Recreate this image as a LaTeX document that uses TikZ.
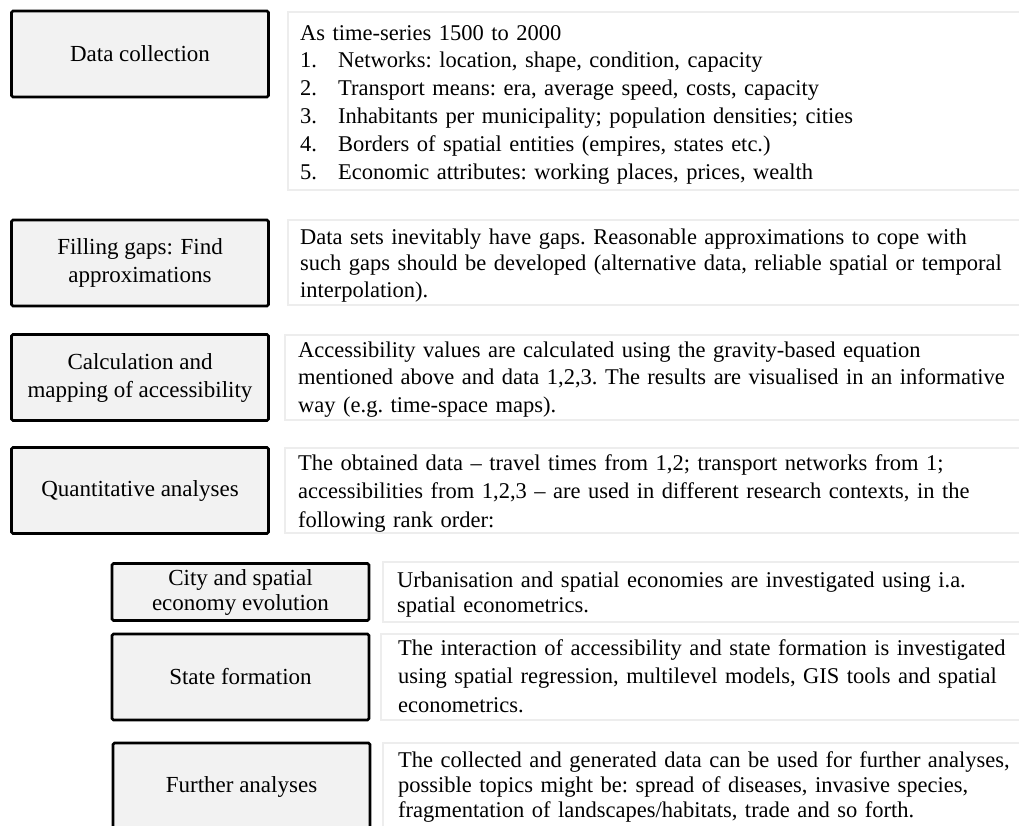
\documentclass[tikz,border=0pt]{standalone}
\usepackage{fontspec}
\setmainfont{Liberation Serif}
\definecolor{boxfill}{HTML}{F2F2F2}
\definecolor{panelline}{HTML}{EDEDED}
\newcommand\myfs[1]{\fontsize{23}{#1}\selectfont}
\newcommand\mypfs[1]{\fontsize{22.5}{#1}\selectfont\frenchspacing}
\begin{document}
\begin{tikzpicture}[x=1pt,y=-1pt,
  stage/.style={draw=black, line width=2.6pt, fill=boxfill, rounded corners=1.5pt,
    align=center, inner sep=0pt, minimum width=257pt, minimum height=86pt},
  panel/.style={draw=panelline, line width=2.5pt},
  ptext/.style={anchor=base west, inner sep=0pt, align=left, text width=730pt}]
\useasboundingbox (0,0) rectangle (1019,825);
% panels
\draw[panel] (288,12) rectangle (1024,190);
\draw[panel] (288,220) rectangle (1024,305);
\draw[panel] (285,335) rectangle (1024,420);
\draw[panel] (285,448) rectangle (1024,533);
\draw[panel] (383,562) rectangle (1024,622);
\draw[panel] (381,634) rectangle (1024,720);
\draw[panel] (383,743) rectangle (1024,840);
% stage boxes
\node[stage, font=\myfs{28}] (dc) at (140,54) {Data collection};
\node[stage, font=\myfs{28}] (fg) at (140,263) {Filling gaps: Find\\approximations};
\node[stage, font=\myfs{28}] (ca) at (140,377.5) {Calculation and\\mapping of accessibility};
\node[stage, font=\myfs{28}] (qa) at (140,490.5) {Quantitative analyses};
\node[stage, font=\myfs{25}, minimum height=57pt] (ci) at (240.5,592) {City and spatial\\economy evolution};
\node[stage, font=\myfs{28}] (sf) at (240.5,677) {State formation};
\node[stage, font=\myfs{28}, minimum height=88pt] (fa) at (241.5,787) {Further analyses};
% panel texts
\node[ptext, font=\mypfs{27.8}] (t1) at (300,40) {As time-series 1500 to 2000\\
\makebox[38pt][l]{1.}Networks: location, shape, condition, capacity\\
\makebox[38pt][l]{2.}Transport means: era, average speed, costs, capacity\\
\makebox[38pt][l]{3.}Inhabitants per municipality; population densities; cities\\
\makebox[38pt][l]{4.}Borders of spatial entities (empires, states etc.)\\
\makebox[38pt][l]{5.}Economic attributes: working places, prices, wealth};
\node[ptext, font=\mypfs{26.5}] (t2) at (300,244) {Data sets inevitably have gaps. Reasonable approximations to cope with\\
such gaps should be developed (alternative data, reliable spatial or temporal\\
interpolation).};
\node[ptext, font=\mypfs{27.5}] (t3) at (298,357) {Accessibility values are calculated using the gravity-based equation\\
mentioned above and data 1,2,3. The results are visualised in an informative\\
way (e.g. time-space maps).};
\node[ptext, font=\mypfs{28.5}] (t4) at (298,470) {The obtained data -- travel times from 1,2; transport networks from 1;\\
accessibilities from 1,2,3 -- are used in different research contexts, in the\\
following rank order:};
\node[ptext, font=\mypfs{25}] (t5) at (397,587) {Urbanisation and spatial economies are investigated using i.a.\\
spatial econometrics.};
\node[ptext, font=\mypfs{28.5}] (t6) at (398,655) {The interaction of accessibility and state formation is investigated\\
using spatial regression, multilevel models, GIS tools and spatial\\
econometrics.};
\node[ptext, font=\mypfs{25}] (t7) at (398,767) {The collected and generated data can be used for further analyses,\\
possible topics might be: spread of diseases, invasive species,\\
fragmentation of landscapes/habitats, trade and so forth.};
\end{tikzpicture}
\end{document}
